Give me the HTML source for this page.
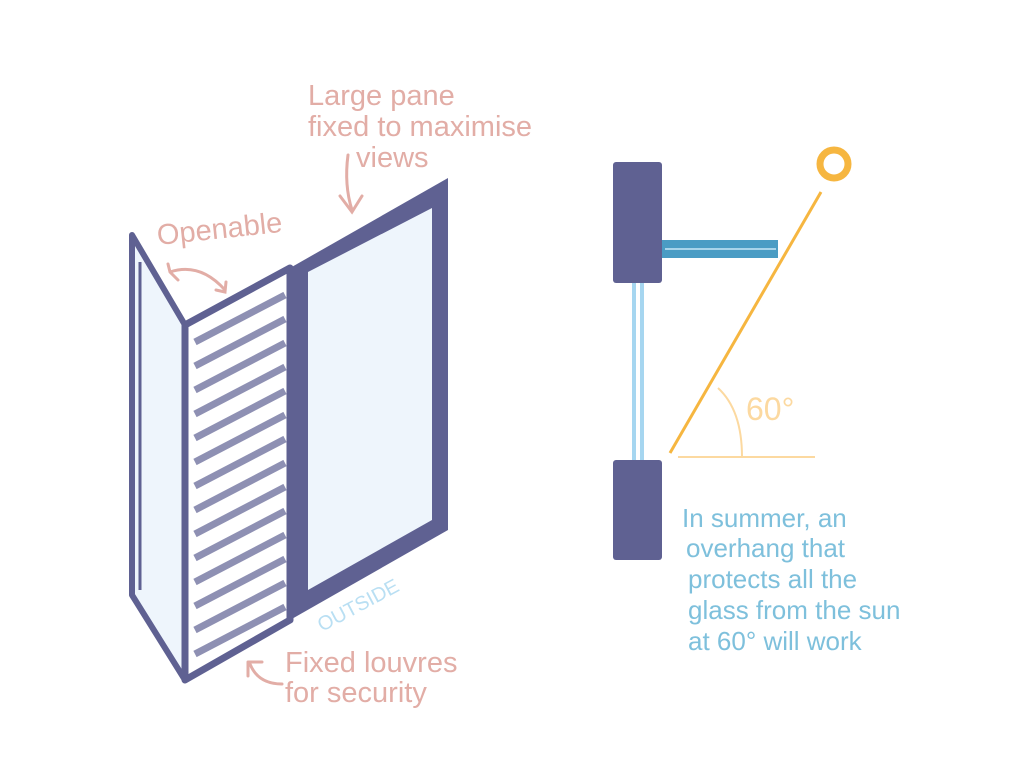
<!DOCTYPE html>
<html><head><style>
html,body{margin:0;padding:0;background:#fff;}
svg{display:block}
text{font-family:"Liberation Sans",sans-serif;}
</style></head><body>
<svg width="1024" height="768" viewBox="0 0 1024 768" xmlns="http://www.w3.org/2000/svg">
<rect width="1024" height="768" fill="#fff"/>
<polygon points="132,235 185,325 185,680 132,595" fill="#eef5fc" stroke="#5f6192" stroke-width="6" stroke-linejoin="round"/>
<line x1="140" y1="262" x2="140" y2="590" stroke="#5f6192" stroke-width="3"/>
<polygon points="185,325 290,268 290,620 185,680" fill="#fff" stroke="#5f6192" stroke-width="7" stroke-linejoin="round"/>
<g stroke="#7b7da6" stroke-width="7" opacity="0.85">
<line x1="195" y1="342" x2="285" y2="295"/>
<line x1="195" y1="366" x2="285" y2="319"/>
<line x1="195" y1="390" x2="285" y2="343"/>
<line x1="195" y1="414" x2="285" y2="367"/>
<line x1="195" y1="438" x2="285" y2="391"/>
<line x1="195" y1="462" x2="285" y2="415"/>
<line x1="195" y1="486" x2="285" y2="439"/>
<line x1="195" y1="510" x2="285" y2="463"/>
<line x1="195" y1="534" x2="285" y2="487"/>
<line x1="195" y1="558" x2="285" y2="511"/>
<line x1="195" y1="582" x2="285" y2="535"/>
<line x1="195" y1="606" x2="285" y2="559"/>
<line x1="195" y1="630" x2="285" y2="583"/>
<line x1="195" y1="654" x2="285" y2="607"/>
</g>
<polygon points="290,268 448,178 448,530 290,620" fill="#5f6192"/>
<polygon points="308,272 432,208 432,520 308,590" fill="#eef5fc"/>
<rect x="613" y="162" width="49" height="121" fill="#5f6192" rx="3"/>
<rect x="662" y="240" width="116" height="18" fill="#4a9cc4"/>
<line x1="665" y1="249" x2="776" y2="249" stroke="#a8d4ea" stroke-width="2"/>
<line x1="634" y1="283" x2="634" y2="460" stroke="#a6d6f0" stroke-width="4"/>
<line x1="642" y1="283" x2="642" y2="460" stroke="#a6d6f0" stroke-width="4"/>
<rect x="613" y="460" width="49" height="100" fill="#5f6192" rx="3"/>
<circle cx="834" cy="164" r="14" fill="none" stroke="#f6b640" stroke-width="7"/>
<line x1="821" y1="192" x2="670" y2="453" stroke="#f6b640" stroke-width="3"/>
<line x1="678" y1="457" x2="815" y2="457" stroke="#fcd9a0" stroke-width="2"/>
<path d="M718,388 Q742,410 742,457" fill="none" stroke="#fcd9a0" stroke-width="2"/>
<text x="746" y="420" font-size="32" fill="#fcd9a0">60°</text>
<g fill="#e2ada6" font-size="29">
<text x="308" y="105">Large pane</text>
<text x="308" y="136">fixed to maximise</text>
<text x="356" y="167">views</text>
<text x="158" y="245" transform="rotate(-6 158 245)">Openable</text>
<text x="285" y="672">Fixed louvres</text>
<text x="285" y="702">for security</text>
</g>
<g fill="none" stroke="#e2ada6" stroke-width="3" stroke-linecap="round">
<path d="M348,155 Q344,185 352,210 M340,196 L352,212 L362,196"/>
<path d="M170,272 Q200,262 225,290 M168,264 L170,272 L178,280 M216,290 L225,292 L226,282"/>
<path d="M250,664 Q258,684 282,684 M248,662 L248,676 M248,662 L262,662"/>
</g>
<text x="322" y="632" font-size="20" fill="#b9dff3" transform="rotate(-28 322 632)">OUTSIDE</text>
<g fill="#7ec0dc" font-size="26">
<text x="682" y="527">In summer, an</text>
<text x="686" y="557">overhang that</text>
<text x="688" y="588">protects all the</text>
<text x="688" y="619">glass from the sun</text>
<text x="688" y="650">at 60° will work</text>
</g>
</svg>
</body></html>
